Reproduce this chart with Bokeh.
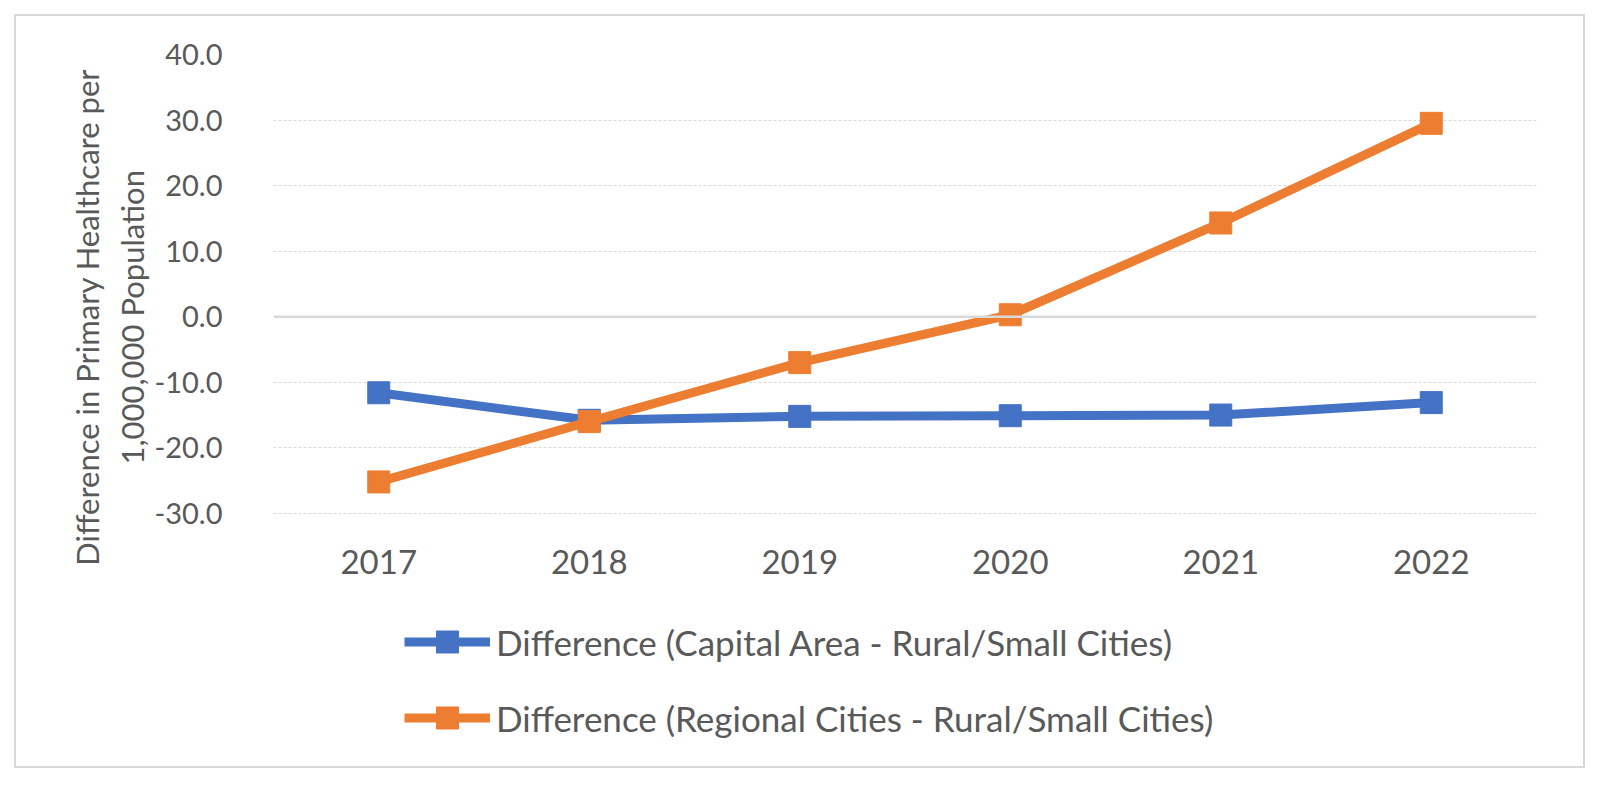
from bokeh.plotting import figure
from bokeh.models import (FactorRange, Range1d, Span, Legend, LegendItem,
                          NumeralTickFormatter, FixedTicker)
from bokeh.embed import file_html
from bokeh.resources import INLINE

years = ["2017", "2018", "2019", "2020", "2021", "2022"]
capital_diff = [-11.6, -15.8, -15.2, -15.1, -15.0, -13.1]
regional_diff = [-25.2, -16.0, -7.0, 0.3, 14.3, 29.5]
series_names = ["Difference (Capital Area - Rural/Small Cities)",
                "Difference (Regional Cities - Rural/Small Cities)"]
y_ticks = [-30, -20, -10, 0, 10, 20, 30, 40]
y_title_lines = ["Difference in Primary Healthcare per", "1,000,000 Population"]

BLUE = "#4472C4"
ORANGE = "#ED7D31"
TXT = "#595959"
GRID = "#d9d9d9"
FONT = "Lato"

lead = "\u00a0" * 23
y_title = "\n".join(lead + line for line in y_title_lines)

p = figure(x_range=FactorRange(*years), y_range=Range1d(-68, 40),
           frame_width=1263, frame_height=708,
           output_backend="svg", toolbar_location=None,
           min_border_left=273, min_border_right=63, min_border_top=54,
           min_border_bottom=20)
p.styles = {"box-shadow": "inset 0 0 0 14px #ffffff, inset 0 0 0 16px #d9d9d9"}
p.outline_line_color = None
p.background_fill_color = "white"
p.border_fill_alpha = 0

# grid
p.xgrid.grid_line_color = None
p.ygrid.grid_line_color = GRID
p.ygrid.grid_line_dash = "3 2"
p.ygrid.grid_line_width = 1

# zero line
p.add_layout(Span(location=0, dimension="width", line_color=GRID, line_width=2.5))

# y axis
p.yaxis.ticker = FixedTicker(ticks=y_ticks)
p.yaxis.formatter = NumeralTickFormatter(format="0.0")
p.yaxis.axis_line_color = None
p.yaxis.major_tick_line_color = None
p.yaxis.minor_tick_line_color = None
p.yaxis.major_label_text_font = FONT
p.yaxis.major_label_text_font_size = "29px"
p.yaxis.major_label_text_color = TXT
p.yaxis.major_label_standoff = 45
p.yaxis.axis_label = y_title
p.yaxis.axis_label_text_font = FONT
p.yaxis.axis_label_text_font_size = "31px"
p.yaxis.axis_label_text_font_style = "normal"
p.yaxis.axis_label_text_color = TXT
p.yaxis.axis_label_standoff = 0

# x axis, drawn at the bottom gridline (-30)
p.xaxis.fixed_location = y_ticks[0]
p.xaxis.axis_line_color = None
p.xaxis.major_tick_line_color = None
p.xaxis.minor_tick_line_color = None
p.xaxis.major_label_text_font = FONT
p.xaxis.major_label_text_font_size = "33px"
p.xaxis.major_label_text_color = TXT
p.xaxis.major_label_standoff = 31

r1l = p.line(years, capital_diff, line_color=BLUE, line_width=9)
r1m = p.scatter(years, capital_diff, marker="square", size=22,
                fill_color=BLUE, line_color=BLUE)
r2l = p.line(years, regional_diff, line_color=ORANGE, line_width=9)
r2m = p.scatter(years, regional_diff, marker="square", size=22,
                fill_color=ORANGE, line_color=ORANGE)

legend = Legend(items=[LegendItem(label=series_names[0], renderers=[r1l, r1m]),
                       LegendItem(label=series_names[1], renderers=[r2l, r2m])],
                location=(131, 17), orientation="vertical",
                padding=0, margin=0, spacing=21,
                glyph_width=86, glyph_height=55, label_height=55,
                label_standoff=6,
                label_text_font=FONT, label_text_font_size="35px",
                label_text_color=TXT,
                border_line_color=None, background_fill_alpha=0)
p.add_layout(legend)

open("out.html", "w").write(file_html(p, INLINE))
